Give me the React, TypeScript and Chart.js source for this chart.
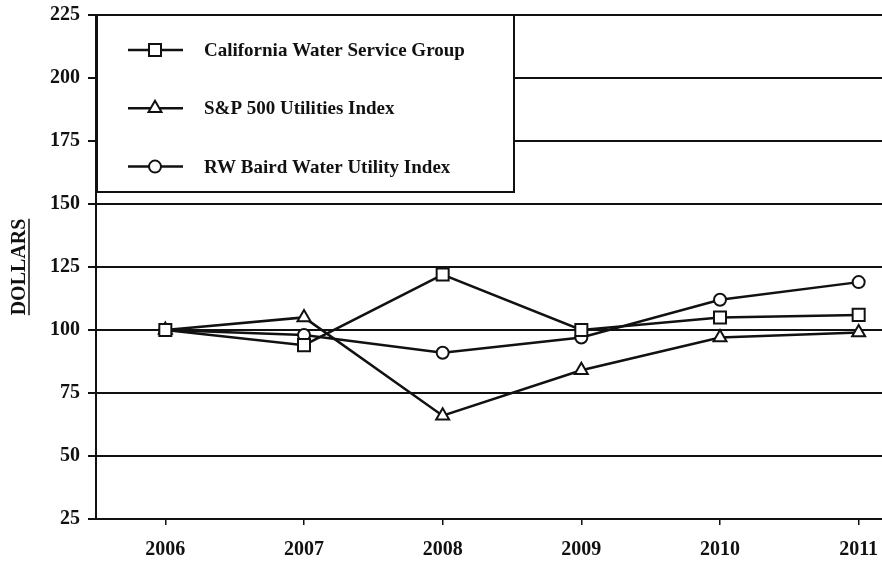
import { useEffect, useRef } from 'react';
import { Chart, registerables } from 'chart.js';
import { drawPoint } from 'chart.js/helpers';

Chart.register(...registerables);

const years = ['2006', '2007', '2008', '2009', '2010', '2011'];
const californiaWater = [100, 94, 122, 100, 105, 106];
const sp500Utilities = [100, 105, 66, 84, 97, 99];
const rwBairdWater = [100, 98, 91, 97, 112, 119];
const seriesLabels = [
  'California Water Service Group',
  'S&P 500 Utilities Index',
  'RW Baird Water Utility Index',
];
const seriesMarkers = ['rect', 'triangle', 'circle'];
const yMin = 25;
const yMax = 225;
const yStep = 25;
const yAxisTitle = 'DOLLARS';

const INK = '#111111';
const FONT_FAMILY = '"Liberation Serif", "Times New Roman", serif';

const boxLegend = {
  id: 'boxLegend',
  afterDatasetsDraw(chart: any) {
    const ctx = chart.ctx;
    const { left, top } = chart.chartArea;
    ctx.save();
    const x0 = left + 1;
    const y0 = top;
    const w = 417;
    const h = 177;
    ctx.fillStyle = '#ffffff';
    ctx.fillRect(x0, y0, w, h);
    ctx.strokeStyle = INK;
    ctx.lineWidth = 2;
    ctx.strokeRect(x0, y0, w, h);
    chart.data.datasets.forEach((ds: any, i: number) => {
      const cy = y0 + 35 + i * 58.3;
      ctx.strokeStyle = INK;
      ctx.lineWidth = 2.5;
      ctx.beginPath();
      ctx.moveTo(left + 32, cy);
      ctx.lineTo(left + 87, cy);
      ctx.stroke();
      ctx.fillStyle = '#ffffff';
      ctx.strokeStyle = INK;
      ctx.lineWidth = 2;
      drawPoint(
        ctx,
        { pointStyle: ds.pointStyle, rotation: 0, radius: ds.pointRadius, borderWidth: 2 } as any,
        left + 59,
        cy
      );
      ctx.fillStyle = INK;
      ctx.font = `bold 19px ${FONT_FAMILY}`;
      ctx.textAlign = 'left';
      ctx.textBaseline = 'middle';
      ctx.fillText(ds.label, left + 108, cy + 1);
    });
    ctx.restore();
  },
};

const titleUnderline = {
  id: 'titleUnderline',
  afterDraw(chart: any) {
    const ctx = chart.ctx;
    const { top, bottom } = chart.chartArea;
    ctx.save();
    ctx.font = `bold 20px ${FONT_FAMILY}`;
    const tw = ctx.measureText(yAxisTitle).width;
    const yc = (top + bottom) / 2;
    const x = 29;
    ctx.strokeStyle = INK;
    ctx.lineWidth = 1.5;
    ctx.beginPath();
    ctx.moveTo(x, yc - tw / 2);
    ctx.lineTo(x, yc + tw / 2);
    ctx.stroke();
    ctx.restore();
  },
};

export default function App() {
  const canvasRef = useRef<HTMLCanvasElement | null>(null);

  useEffect(() => {
    if (!canvasRef.current) return;
    const mk = (label: string, data: number[], style: string, radius: number) => ({
      label,
      data,
      borderColor: INK,
      borderWidth: 2.5,
      pointStyle: style,
      pointRadius: radius,
      pointBackgroundColor: '#ffffff',
      pointBorderColor: INK,
      pointBorderWidth: 2,
      tension: 0,
      fill: false,
    });
    const chart = new Chart(canvasRef.current, {
      type: 'line',
      data: {
        labels: years,
        datasets: [
          mk(seriesLabels[0], californiaWater, seriesMarkers[0], 8.5),
          mk(seriesLabels[1], sp500Utilities, seriesMarkers[1], 7.5),
          mk(seriesLabels[2], rwBairdWater, seriesMarkers[2], 6),
        ],
      },
      options: {
        responsive: false,
        animation: false,
        layout: { padding: { top: 0, right: 17, left: 0, bottom: 0 } },
        plugins: {
          legend: { display: false },
          tooltip: { enabled: false },
        },
        scales: {
          x: {
            type: 'category',
            offset: true,
            grid: {
              drawOnChartArea: false,
              drawTicks: true,
              tickLength: 6,
              color: INK,
              lineWidth: 1.5,
            },
            border: { color: INK, width: 2 },
            ticks: {
              color: INK,
              font: { family: FONT_FAMILY, size: 20, weight: 'bold' },
              padding: 13,
              maxRotation: 0,
              autoSkip: false,
            },
            afterFit(scale: any) {
              scale.height = 42;
            },
          },
          y: {
            min: yMin,
            max: yMax,
            ticks: {
              stepSize: yStep,
              color: INK,
              font: { family: FONT_FAMILY, size: 20, weight: 'bold' },
              padding: 8,
            },
            grid: { color: INK, lineWidth: 2, tickLength: 8 },
            border: { color: INK, width: 2 },
            title: {
              display: true,
              text: yAxisTitle,
              color: INK,
              font: { family: FONT_FAMILY, size: 20, weight: 'bold' },
              padding: { top: 8, bottom: 0 },
            },
            afterFit(scale: any) {
              scale.width = 96;
              scale.paddingTop = 15;
              scale.paddingBottom = 0;
            },
          },
        },
      } as any,
      plugins: [boxLegend, titleUnderline],
    });
    return () => chart.destroy();
  }, []);

  return (
    <div
      style={{
        position: 'fixed',
        left: 0,
        top: 0,
        width: 882,
        height: 561,
        overflow: 'hidden',
        background: '#ffffff',
      }}
    >
      <canvas ref={canvasRef} width={945} height={561} style={{ display: 'block' }} />
    </div>
  );
}
